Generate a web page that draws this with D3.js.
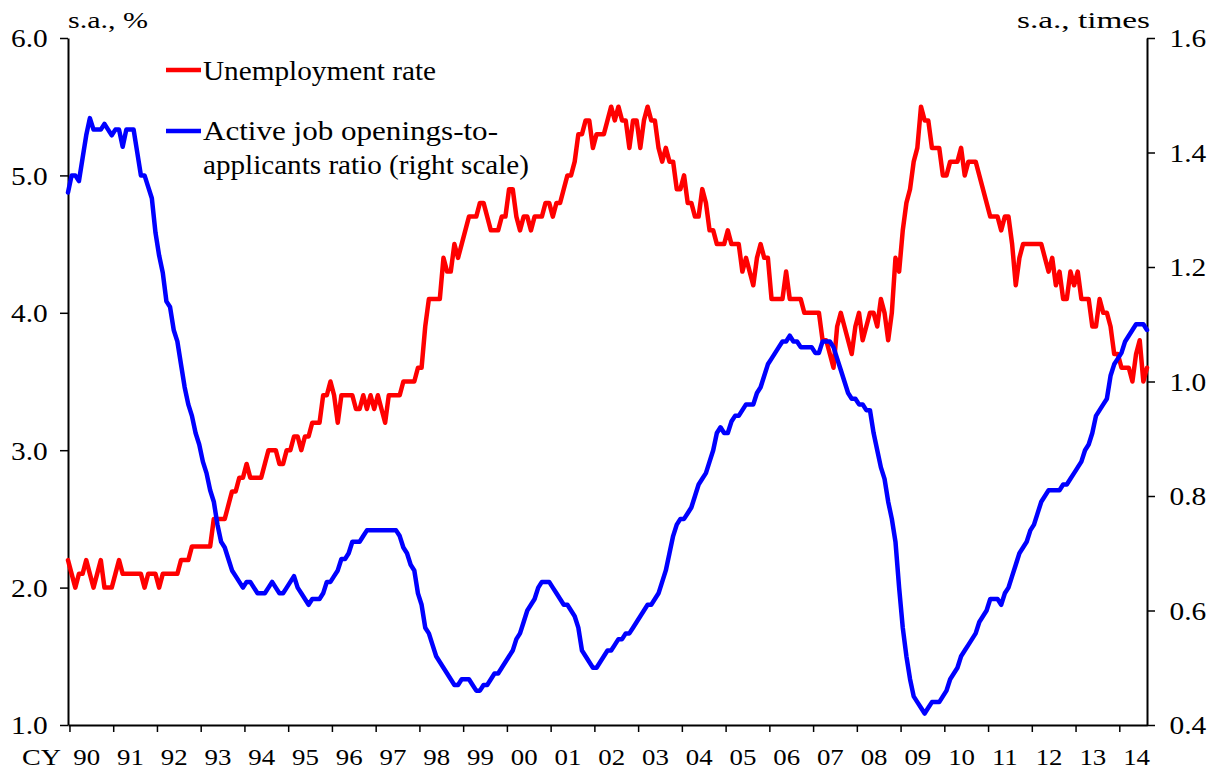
<!DOCTYPE html>
<html>
<head>
<meta charset="utf-8">
<script src="https://cdn.jsdelivr.net/npm/d3@7"></script>
<style>
  html, body { margin: 0; padding: 0; background: #fff; }
  svg { display: block; }
  text { font-family: "Liberation Serif", "Times New Roman", serif; fill: #000; }
</style>
</head>
<body>
<svg id="chart" width="1212" height="771"></svg>
<script>
// Monthly data, Jan 1990 - Sep 2014
const unemploymentRate = [
  2.2,2.1,2.0,2.1,2.1,2.2,2.1,2.0,2.1,2.2,2.0,2.0,
  2.0,2.1,2.2,2.1,2.1,2.1,2.1,2.1,2.1,2.0,2.1,2.1,
  2.1,2.0,2.1,2.1,2.1,2.1,2.1,2.2,2.2,2.2,2.3,2.3,
  2.3,2.3,2.3,2.3,2.5,2.5,2.5,2.5,2.6,2.7,2.7,2.8,
  2.8,2.9,2.8,2.8,2.8,2.8,2.9,3.0,3.0,3.0,2.9,2.9,
  3.0,3.0,3.1,3.1,3.0,3.1,3.1,3.2,3.2,3.2,3.4,3.4,
  3.5,3.4,3.2,3.4,3.4,3.4,3.4,3.3,3.3,3.4,3.3,3.4,
  3.3,3.4,3.3,3.2,3.4,3.4,3.4,3.4,3.5,3.5,3.5,3.5,
  3.6,3.6,3.9,4.1,4.1,4.1,4.1,4.4,4.3,4.3,4.5,4.4,
  4.5,4.6,4.7,4.7,4.7,4.8,4.8,4.7,4.6,4.6,4.6,4.7,
  4.7,4.9,4.9,4.7,4.6,4.7,4.7,4.6,4.7,4.7,4.7,4.8,
  4.8,4.7,4.8,4.8,4.9,5.0,5.0,5.1,5.3,5.3,5.4,5.4,
  5.2,5.3,5.3,5.3,5.4,5.5,5.4,5.5,5.4,5.4,5.2,5.4,
  5.4,5.2,5.4,5.5,5.4,5.4,5.2,5.1,5.2,5.1,5.1,4.9,
  4.9,5.0,4.8,4.8,4.7,4.7,4.9,4.8,4.6,4.6,4.5,4.5,
  4.5,4.6,4.5,4.5,4.5,4.3,4.4,4.3,4.2,4.4,4.5,4.4,
  4.4,4.1,4.1,4.1,4.1,4.3,4.1,4.1,4.1,4.1,4.0,4.0,
  4.0,4.0,4.0,3.8,3.8,3.7,3.6,3.9,4.0,3.9,3.8,3.7,
  3.9,4.0,3.8,3.9,4.0,4.0,3.9,4.1,4.0,3.8,4.0,4.4,
  4.3,4.6,4.8,4.9,5.1,5.2,5.5,5.4,5.4,5.2,5.2,5.2,
  5.0,5.0,5.1,5.1,5.1,5.2,5.0,5.1,5.1,5.1,5.0,4.9,
  4.8,4.7,4.7,4.7,4.6,4.7,4.7,4.5,4.2,4.4,4.5,4.5,
  4.5,4.5,4.5,4.5,4.4,4.3,4.4,4.2,4.3,4.1,4.1,4.3,
  4.2,4.3,4.1,4.1,4.1,3.9,3.9,4.1,4.0,4.0,3.9,3.7,
  3.7,3.6,3.6,3.6,3.5,3.7,3.8,3.5,3.6
];
const jobOpeningsRatio = [
  1.33,1.36,1.36,1.35,1.39,1.43,1.46,1.44,1.44,1.44,1.45,1.44,
  1.43,1.44,1.44,1.41,1.44,1.44,1.44,1.40,1.36,1.36,1.34,1.32,
  1.26,1.22,1.19,1.14,1.13,1.09,1.07,1.03,0.99,0.96,0.94,0.91,
  0.89,0.86,0.84,0.81,0.79,0.75,0.72,0.71,0.69,0.67,0.66,0.65,
  0.64,0.65,0.65,0.64,0.63,0.63,0.63,0.64,0.65,0.64,0.63,0.63,
  0.64,0.65,0.66,0.64,0.63,0.62,0.61,0.62,0.62,0.62,0.63,0.65,
  0.65,0.66,0.67,0.69,0.69,0.70,0.72,0.72,0.72,0.73,0.74,0.74,
  0.74,0.74,0.74,0.74,0.74,0.74,0.74,0.73,0.71,0.70,0.68,0.67,
  0.63,0.61,0.57,0.56,0.54,0.52,0.51,0.50,0.49,0.48,0.47,0.47,
  0.48,0.48,0.48,0.47,0.46,0.46,0.47,0.47,0.48,0.49,0.49,0.50,
  0.51,0.52,0.53,0.55,0.56,0.58,0.60,0.61,0.62,0.64,0.65,0.65,
  0.65,0.64,0.63,0.62,0.61,0.61,0.60,0.59,0.57,0.53,0.52,0.51,
  0.50,0.50,0.51,0.52,0.53,0.53,0.54,0.55,0.55,0.56,0.56,0.57,
  0.58,0.59,0.60,0.61,0.61,0.62,0.63,0.65,0.67,0.70,0.73,0.75,
  0.76,0.76,0.77,0.78,0.80,0.82,0.83,0.84,0.86,0.88,0.91,0.92,
  0.91,0.91,0.93,0.94,0.94,0.95,0.96,0.96,0.96,0.98,0.99,1.01,
  1.03,1.04,1.05,1.06,1.07,1.07,1.08,1.07,1.07,1.06,1.06,1.06,
  1.06,1.05,1.05,1.07,1.07,1.07,1.06,1.04,1.02,1.00,0.98,0.97,
  0.97,0.96,0.96,0.95,0.95,0.91,0.88,0.85,0.83,0.79,0.76,0.72,
  0.64,0.57,0.52,0.48,0.45,0.44,0.43,0.42,0.43,0.44,0.44,0.44,
  0.45,0.46,0.48,0.49,0.50,0.52,0.53,0.54,0.55,0.56,0.58,0.59,
  0.60,0.62,0.62,0.62,0.61,0.63,0.64,0.66,0.68,0.70,0.71,0.72,
  0.74,0.75,0.77,0.79,0.80,0.81,0.81,0.81,0.81,0.82,0.82,0.83,
  0.84,0.85,0.86,0.88,0.89,0.91,0.94,0.95,0.96,0.97,1.01,1.03,
  1.04,1.05,1.07,1.08,1.09,1.10,1.10,1.10,1.09
];
const yearLabels = ["90","91","92","93","94","95","96","97","98","99","00","01","02","03","04","05","06","07","08","09","10","11","12","13","14"];
const leftTicks = [1.0, 2.0, 3.0, 4.0, 5.0, 6.0];
const rightTicks = [0.4, 0.6, 0.8, 1.0, 1.2, 1.4, 1.6];
const seriesNames = ["Unemployment rate", "Active job openings-to-", "applicants ratio (right scale)"];

const svg = d3.select("#chart");
const L = 68, R = 1147, T = 38, B = 725;

const x = d3.scaleLinear().domain([0, unemploymentRate.length - 1]).range([L, R]);
const yL = d3.scaleLinear().domain([1, 6]).range([B, T]);
const yR = d3.scaleLinear().domain([0.4, 1.6]).range([B, T]);

// year boundary ticks
const tickPos = yearLabels.map((d, k) => 12 * k + 0.4);

// Axes
const gL = svg.append("g").attr("transform", `translate(${L},0)`)
  .call(d3.axisLeft(yL).tickValues(leftTicks).tickFormat(d3.format(".1f")).tickSize(8).tickSizeOuter(0).tickPadding(10));
const gR = svg.append("g").attr("transform", `translate(${R},0)`)
  .call(d3.axisRight(yR).tickValues(rightTicks).tickFormat(d3.format(".1f")).tickSize(8).tickSizeOuter(0).tickPadding(12));
const gB = svg.append("g").attr("transform", `translate(0,${B})`)
  .call(d3.axisBottom(x).tickValues(tickPos).tickFormat((d, i) => yearLabels[i]).tickSize(7).tickSizeOuter(0).tickPadding(16));

[gL, gR, gB].forEach(g => {
  g.select(".domain").attr("stroke", "#000").attr("stroke-width", 2);
  g.selectAll(".tick line").attr("stroke", "#000").attr("stroke-width", 1.5);
});
gL.selectAll(".tick text").attr("font-size", 26).attr("dy", "0.34em")
  .attr("transform", "scale(1.13,1)").style("font-family", "Liberation Serif");
gR.selectAll(".tick text").attr("font-size", 26).attr("dy", "0.34em")
  .attr("transform", "scale(1.13,1)").style("font-family", "Liberation Serif");
gB.selectAll(".tick text").attr("font-size", 24).attr("text-anchor", "start")
  .attr("x", 3).attr("dy", "0.71em")
  .attr("transform", "scale(1.12,1)").style("font-family", "Liberation Serif");

// Lines
const lineU = d3.line().x((d, i) => x(i)).y(d => yL(d));
const lineJ = d3.line().x((d, i) => x(i)).y(d => yR(d));

svg.append("path").datum(unemploymentRate)
  .attr("d", lineU).attr("fill", "none").attr("stroke", "#FF0000")
  .attr("stroke-width", 4.5).attr("stroke-linejoin", "round").attr("stroke-linecap", "round");
svg.append("path").datum(jobOpeningsRatio)
  .attr("d", lineJ).attr("fill", "none").attr("stroke", "#0000FF")
  .attr("stroke-width", 4.5).attr("stroke-linejoin", "round").attr("stroke-linecap", "round");

// Axis unit labels
svg.append("text").attr("x", 68).attr("y", 28).attr("font-size", 24)
  .attr("textLength", 80).attr("lengthAdjust", "spacingAndGlyphs").text("s.a., %");
svg.append("text").attr("x", 1017).attr("y", 28).attr("font-size", 24)
  .attr("textLength", 133).attr("lengthAdjust", "spacingAndGlyphs").text("s.a., times");
svg.append("text").attr("x", 22).attr("y", 765).attr("font-size", 24)
  .attr("textLength", 39).attr("lengthAdjust", "spacingAndGlyphs").text("CY");

// Legend
const legend = svg.append("g");
legend.append("line").attr("x1", 166).attr("x2", 201).attr("y1", 70).attr("y2", 70)
  .attr("stroke", "#FF0000").attr("stroke-width", 4.5);
legend.append("text").attr("x", 203).attr("y", 80).attr("font-size", 27)
  .attr("textLength", 233).attr("lengthAdjust", "spacingAndGlyphs").text(seriesNames[0]);
legend.append("line").attr("x1", 166).attr("x2", 201).attr("y1", 131).attr("y2", 131)
  .attr("stroke", "#0000FF").attr("stroke-width", 4.5);
legend.append("text").attr("x", 203).attr("y", 140).attr("font-size", 27)
  .attr("textLength", 295).attr("lengthAdjust", "spacingAndGlyphs").text(seriesNames[1]);
legend.append("text").attr("x", 203).attr("y", 174).attr("font-size", 27)
  .attr("textLength", 326).attr("lengthAdjust", "spacingAndGlyphs").text(seriesNames[2]);
</script>
</body>
</html>
